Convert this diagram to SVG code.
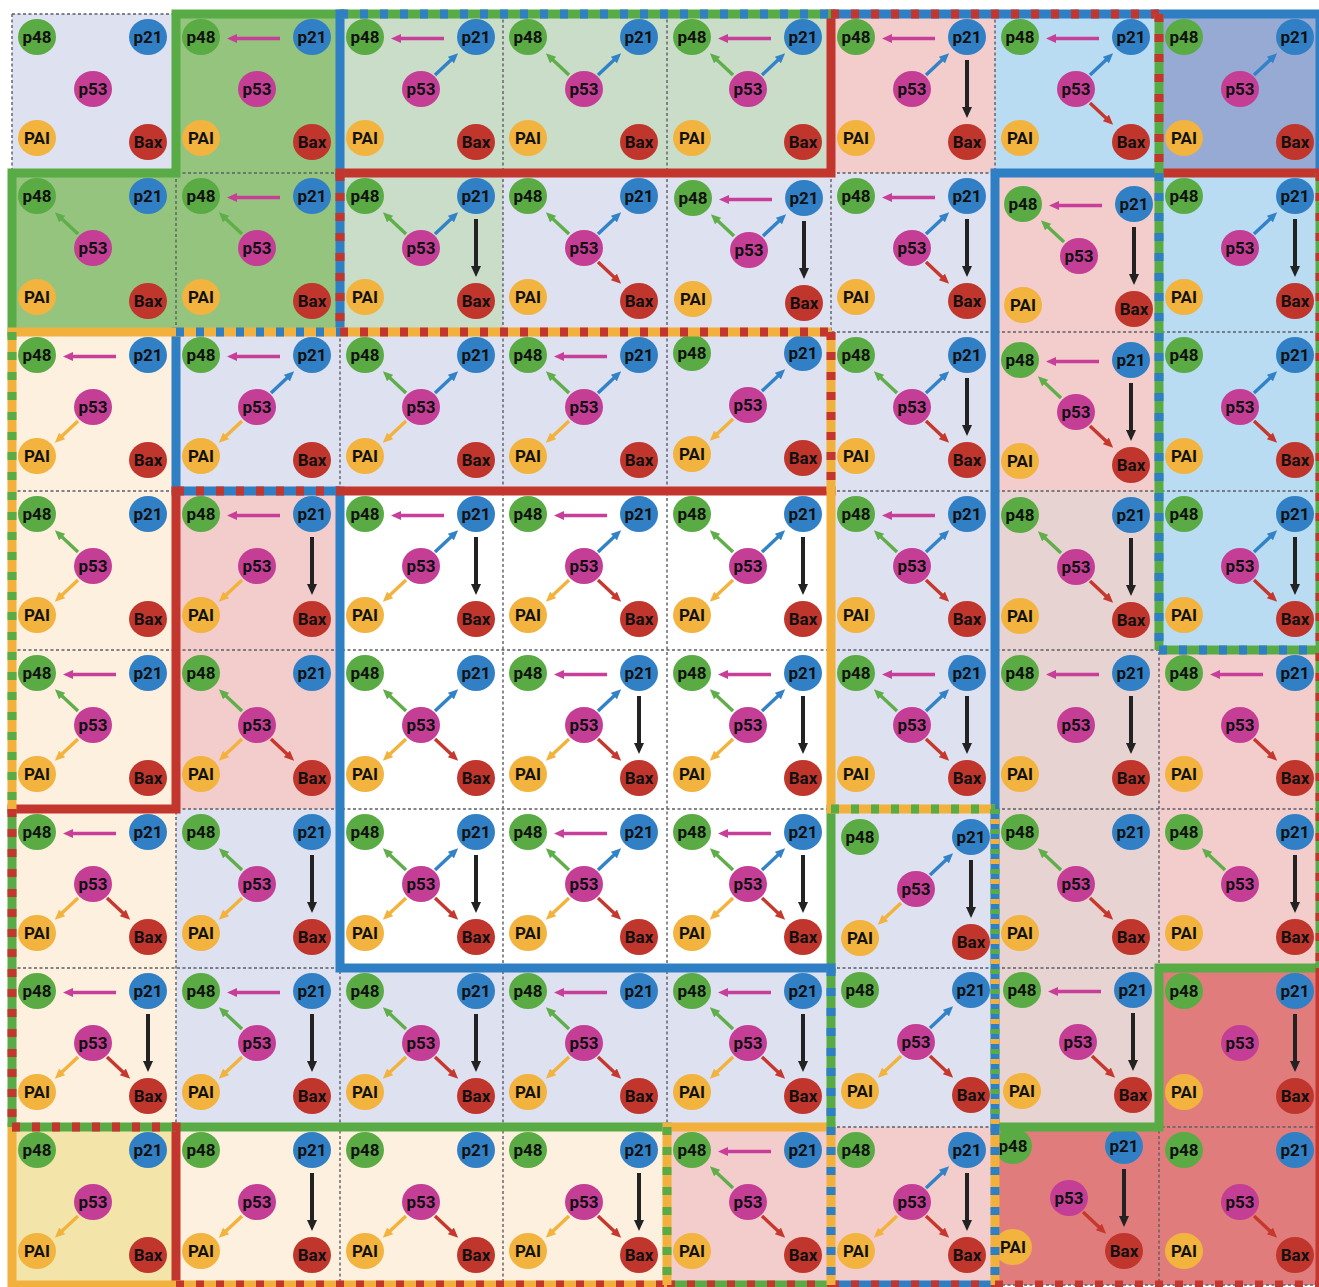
<svg xmlns="http://www.w3.org/2000/svg" xmlns:xlink="http://www.w3.org/1999/xlink" width="1319" height="1287" viewBox="0 0 1319 1287">
<style>
.a{fill:none;stroke-width:3.4}
.k{fill:none;stroke-width:4}
.s{fill:none;stroke-width:9;stroke-linecap:square}
.d{fill:none;stroke-width:9}
.o{fill:none;stroke-width:9;stroke-dasharray:8 12}
</style>
<defs>
<marker id="mM" viewBox="0 0 10 9" refX="2" refY="4.5" markerWidth="10" markerHeight="9" markerUnits="userSpaceOnUse" orient="auto"><path d="M0,0L10,4.5L0,9z" fill="#c73f98"/></marker>
<marker id="mB" viewBox="0 0 10 9" refX="2" refY="4.5" markerWidth="10" markerHeight="9" markerUnits="userSpaceOnUse" orient="auto"><path d="M0,0L10,4.5L0,9z" fill="#3282c8"/></marker>
<marker id="mG" viewBox="0 0 10 9" refX="2" refY="4.5" markerWidth="10" markerHeight="9" markerUnits="userSpaceOnUse" orient="auto"><path d="M0,0L10,4.5L0,9z" fill="#5fae4a"/></marker>
<marker id="mO" viewBox="0 0 10 9" refX="2" refY="4.5" markerWidth="10" markerHeight="9" markerUnits="userSpaceOnUse" orient="auto"><path d="M0,0L10,4.5L0,9z" fill="#f2b23c"/></marker>
<marker id="mR" viewBox="0 0 10 9" refX="2" refY="4.5" markerWidth="10" markerHeight="9" markerUnits="userSpaceOnUse" orient="auto"><path d="M0,0L10,4.5L0,9z" fill="#c6372e"/></marker>
<marker id="mK" viewBox="0 0 11 10" refX="2" refY="5" markerWidth="11" markerHeight="10" markerUnits="userSpaceOnUse" orient="auto"><path d="M0,0L11,5L0,10z" fill="#222"/></marker>
<path id="aL" class="a" d="M104,24.5H59" stroke="#c73f98" marker-end="url(#mM)"/>
<path id="aU" class="a" d="M95,61L112.3,44.7" stroke="#3282c8" marker-end="url(#mB)"/>
<path id="aG" class="a" d="M66,61L48.7,44.7" stroke="#5fae4a" marker-end="url(#mG)"/>
<path id="aO" class="a" d="M66,89L48.7,105.3" stroke="#f2b23c" marker-end="url(#mO)"/>
<path id="aR" class="a" d="M95,89L112.3,105.3" stroke="#c6372e" marker-end="url(#mR)"/>
<path id="aD" class="k" d="M136,46V95" stroke="#222" marker-end="url(#mK)"/>
<g id="nodeset" font-family="Roboto, 'Liberation Sans', sans-serif" font-weight="700" font-size="17" fill="#111" text-anchor="middle">
<g id="t-p48"><ellipse cx="25" cy="23" rx="19" ry="18" fill="#5bab45"/><text x="25" y="29" fill="#111">p48</text></g>
<g id="t-p21"><ellipse cx="136" cy="23" rx="19" ry="18" fill="#3180c6"/><text x="136" y="29" fill="#111">p21</text></g>
<g id="t-p53"><ellipse cx="81" cy="75" rx="19" ry="18" fill="#c53e96"/><text x="81" y="81" fill="#111">p53</text></g>
<g id="t-PAI"><ellipse cx="25" cy="124" rx="19" ry="18" fill="#f2b33f"/><text x="25" y="130" fill="#111">PAI</text></g>
<g id="t-Bax"><ellipse cx="136" cy="128" rx="19" ry="18" fill="#c0362c"/><text x="136" y="134" fill="#111">Bax</text></g>
</g>
</defs>
<rect width="1319" height="1287" fill="#ffffff"/>
<g id="backgrounds">
<rect x="12" y="14" width="1308" height="1271" fill="#dee1ef"/>
<rect x="176" y="14" width="164" height="159" fill="#94c47e"/>
<rect x="12" y="173" width="328" height="159" fill="#94c47e"/>
<rect x="340" y="14" width="491" height="159" fill="#c9ddc9"/>
<rect x="340" y="173" width="163" height="159" fill="#c9ddc9"/>
<rect x="831" y="14" width="164" height="159" fill="#f3cdcc"/>
<rect x="995" y="173" width="164" height="318" fill="#f3cdcc"/>
<rect x="176" y="491" width="164" height="318" fill="#f3cdcc"/>
<rect x="1159" y="650" width="161" height="318" fill="#f3cdcc"/>
<rect x="667" y="1127" width="328" height="158" fill="#f3cdcc"/>
<rect x="995" y="14" width="164" height="159" fill="#badcf3"/>
<rect x="1159" y="173" width="161" height="477" fill="#badcf3"/>
<rect x="1159" y="14" width="161" height="159" fill="#96aad4"/>
<rect x="12" y="332" width="164" height="795" fill="#fdf0df"/>
<rect x="176" y="1127" width="491" height="158" fill="#fdf0df"/>
<rect x="340" y="491" width="491" height="477" fill="#ffffff"/>
<rect x="995" y="491" width="164" height="636" fill="#e7d3d2"/>
<rect x="1159" y="968" width="161" height="317" fill="#e07d7c"/>
<rect x="995" y="1127" width="164" height="158" fill="#e07d7c"/>
<rect x="12" y="1127" width="164" height="158" fill="#f3e5aa"/>
</g>
<g id="grid" fill="none" stroke="#5c5d66" stroke-width="1.4" stroke-dasharray="3 2.5">
<path d="M12,14V1285M176,14V1285M340,14V1285M503,14V1285M667,14V1285M831,14V1285M995,14V1285M1159,14V1285M1320,14V1285M12,14H1320M12,173H1320M12,332H1320M12,491H1320M12,650H1320M12,809H1320M12,968H1320M12,1127H1320M12,1285H1320"/>
</g>
<g id="connectors">
<g transform="translate(176 14)"><use href="#aL"/></g>
<g transform="translate(340 14)"><use href="#aL"/><use href="#aU"/></g>
<g transform="translate(503 14)"><use href="#aG"/><use href="#aU"/></g>
<g transform="translate(667 14)"><use href="#aL"/><use href="#aG"/><use href="#aU"/></g>
<g transform="translate(831 14)"><use href="#aL"/><use href="#aU"/><use href="#aD"/></g>
<g transform="translate(995 14)"><use href="#aL"/><use href="#aU"/><use href="#aR"/></g>
<g transform="translate(1159 14)"><use href="#aU"/></g>
<g transform="translate(12 173)"><use href="#aG"/></g>
<g transform="translate(176 173)"><use href="#aL"/><use href="#aG"/></g>
<g transform="translate(340 173)"><use href="#aG"/><use href="#aU"/><use href="#aD"/></g>
<g transform="translate(503 173)"><use href="#aG"/><use href="#aU"/><use href="#aR"/></g>
<g transform="translate(668 175)"><use href="#aL"/><use href="#aG"/><use href="#aU"/><use href="#aD"/></g>
<g transform="translate(831 173)"><use href="#aL"/><use href="#aU"/><use href="#aR"/><use href="#aD"/></g>
<g transform="translate(998 181)"><use href="#aL"/><use href="#aG"/><use href="#aD"/></g>
<g transform="translate(1159 173)"><use href="#aU"/><use href="#aD"/></g>
<g transform="translate(12 332)"><use href="#aL"/><use href="#aO"/></g>
<g transform="translate(176 332)"><use href="#aL"/><use href="#aU"/><use href="#aO"/></g>
<g transform="translate(340 332)"><use href="#aG"/><use href="#aU"/><use href="#aO"/></g>
<g transform="translate(503 332)"><use href="#aL"/><use href="#aG"/><use href="#aU"/><use href="#aO"/></g>
<g transform="translate(667 330)"><use href="#aU"/><use href="#aO"/></g>
<g transform="translate(831 332)"><use href="#aG"/><use href="#aU"/><use href="#aR"/><use href="#aD"/></g>
<g transform="translate(995 337)"><use href="#aL"/><use href="#aG"/><use href="#aR"/><use href="#aD"/></g>
<g transform="translate(1159 332)"><use href="#aU"/><use href="#aR"/></g>
<g transform="translate(12 491)"><use href="#aG"/><use href="#aO"/></g>
<g transform="translate(176 491)"><use href="#aL"/><use href="#aO"/><use href="#aD"/></g>
<g transform="translate(340 491)"><use href="#aL"/><use href="#aU"/><use href="#aO"/><use href="#aD"/></g>
<g transform="translate(503 491)"><use href="#aL"/><use href="#aU"/><use href="#aO"/><use href="#aR"/></g>
<g transform="translate(667 491)"><use href="#aG"/><use href="#aU"/><use href="#aO"/><use href="#aD"/></g>
<g transform="translate(831 491)"><use href="#aL"/><use href="#aG"/><use href="#aU"/><use href="#aR"/></g>
<g transform="translate(995 492)"><use href="#aG"/><use href="#aR"/><use href="#aD"/></g>
<g transform="translate(1159 491)"><use href="#aU"/><use href="#aR"/><use href="#aD"/></g>
<g transform="translate(12 650)"><use href="#aL"/><use href="#aG"/><use href="#aO"/></g>
<g transform="translate(176 650)"><use href="#aG"/><use href="#aO"/><use href="#aR"/></g>
<g transform="translate(340 650)"><use href="#aG"/><use href="#aU"/><use href="#aO"/><use href="#aR"/></g>
<g transform="translate(503 650)"><use href="#aL"/><use href="#aU"/><use href="#aO"/><use href="#aR"/><use href="#aD"/></g>
<g transform="translate(667 650)"><use href="#aL"/><use href="#aG"/><use href="#aU"/><use href="#aO"/><use href="#aD"/></g>
<g transform="translate(831 650)"><use href="#aL"/><use href="#aG"/><use href="#aU"/><use href="#aR"/><use href="#aD"/></g>
<g transform="translate(995 650)"><use href="#aL"/><use href="#aD"/></g>
<g transform="translate(1159 650)"><use href="#aL"/><use href="#aR"/></g>
<g transform="translate(12 809)"><use href="#aL"/><use href="#aO"/><use href="#aR"/></g>
<g transform="translate(176 809)"><use href="#aG"/><use href="#aO"/><use href="#aD"/></g>
<g transform="translate(340 809)"><use href="#aG"/><use href="#aU"/><use href="#aO"/><use href="#aR"/><use href="#aD"/></g>
<g transform="translate(503 809)"><use href="#aL"/><use href="#aG"/><use href="#aU"/><use href="#aO"/><use href="#aR"/></g>
<g transform="translate(667 809)"><use href="#aL"/><use href="#aG"/><use href="#aU"/><use href="#aO"/><use href="#aR"/><use href="#aD"/></g>
<g transform="translate(835 814)"><use href="#aU"/><use href="#aO"/><use href="#aD"/></g>
<g transform="translate(995 809)"><use href="#aG"/><use href="#aR"/></g>
<g transform="translate(1159 809)"><use href="#aG"/><use href="#aD"/></g>
<g transform="translate(12 968)"><use href="#aL"/><use href="#aO"/><use href="#aR"/><use href="#aD"/></g>
<g transform="translate(176 968)"><use href="#aL"/><use href="#aG"/><use href="#aO"/><use href="#aD"/></g>
<g transform="translate(340 968)"><use href="#aG"/><use href="#aO"/><use href="#aR"/><use href="#aD"/></g>
<g transform="translate(503 968)"><use href="#aL"/><use href="#aG"/><use href="#aO"/><use href="#aR"/></g>
<g transform="translate(667 968)"><use href="#aL"/><use href="#aG"/><use href="#aO"/><use href="#aR"/><use href="#aD"/></g>
<g transform="translate(835 967)"><use href="#aU"/><use href="#aO"/><use href="#aR"/></g>
<g transform="translate(997 967)"><use href="#aL"/><use href="#aR"/><use href="#aD"/></g>
<g transform="translate(1159 968)"><use href="#aD"/></g>
<g transform="translate(12 1127)"><use href="#aO"/></g>
<g transform="translate(176 1127)"><use href="#aO"/><use href="#aD"/></g>
<g transform="translate(340 1127)"><use href="#aO"/><use href="#aR"/></g>
<g transform="translate(503 1127)"><use href="#aO"/><use href="#aR"/><use href="#aD"/></g>
<g transform="translate(667 1127)"><use href="#aL"/><use href="#aG"/><use href="#aR"/></g>
<g transform="translate(831 1127)"><use href="#aU"/><use href="#aO"/><use href="#aR"/><use href="#aD"/></g>
<g transform="translate(988 1123)"><use href="#aR"/><use href="#aD"/></g>
<g transform="translate(1159 1127)"><use href="#aR"/></g>
</g>
<g id="nodes">
<use id="n-r0c0" href="#nodeset" x="12" y="14"/><use id="n-r0c1" href="#nodeset" x="176" y="14"/><use id="n-r0c2" href="#nodeset" x="340" y="14"/><use id="n-r0c3" href="#nodeset" x="503" y="14"/><use id="n-r0c4" href="#nodeset" x="667" y="14"/><use id="n-r0c5" href="#nodeset" x="831" y="14"/><use id="n-r0c6" href="#nodeset" x="995" y="14"/><use id="n-r0c7" href="#nodeset" x="1159" y="14"/>
<use id="n-r1c0" href="#nodeset" x="12" y="173"/><use id="n-r1c1" href="#nodeset" x="176" y="173"/><use id="n-r1c2" href="#nodeset" x="340" y="173"/><use id="n-r1c3" href="#nodeset" x="503" y="173"/><use id="n-r1c4" href="#nodeset" x="668" y="175"/><use id="n-r1c5" href="#nodeset" x="831" y="173"/><use id="n-r1c6" href="#nodeset" x="998" y="181"/><use id="n-r1c7" href="#nodeset" x="1159" y="173"/>
<use id="n-r2c0" href="#nodeset" x="12" y="332"/><use id="n-r2c1" href="#nodeset" x="176" y="332"/><use id="n-r2c2" href="#nodeset" x="340" y="332"/><use id="n-r2c3" href="#nodeset" x="503" y="332"/><use id="n-r2c4" href="#nodeset" x="667" y="330"/><use id="n-r2c5" href="#nodeset" x="831" y="332"/><use id="n-r2c6" href="#nodeset" x="995" y="337"/><use id="n-r2c7" href="#nodeset" x="1159" y="332"/>
<use id="n-r3c0" href="#nodeset" x="12" y="491"/><use id="n-r3c1" href="#nodeset" x="176" y="491"/><use id="n-r3c2" href="#nodeset" x="340" y="491"/><use id="n-r3c3" href="#nodeset" x="503" y="491"/><use id="n-r3c4" href="#nodeset" x="667" y="491"/><use id="n-r3c5" href="#nodeset" x="831" y="491"/><use id="n-r3c6" href="#nodeset" x="995" y="492"/><use id="n-r3c7" href="#nodeset" x="1159" y="491"/>
<use id="n-r4c0" href="#nodeset" x="12" y="650"/><use id="n-r4c1" href="#nodeset" x="176" y="650"/><use id="n-r4c2" href="#nodeset" x="340" y="650"/><use id="n-r4c3" href="#nodeset" x="503" y="650"/><use id="n-r4c4" href="#nodeset" x="667" y="650"/><use id="n-r4c5" href="#nodeset" x="831" y="650"/><use id="n-r4c6" href="#nodeset" x="995" y="650"/><use id="n-r4c7" href="#nodeset" x="1159" y="650"/>
<use id="n-r5c0" href="#nodeset" x="12" y="809"/><use id="n-r5c1" href="#nodeset" x="176" y="809"/><use id="n-r5c2" href="#nodeset" x="340" y="809"/><use id="n-r5c3" href="#nodeset" x="503" y="809"/><use id="n-r5c4" href="#nodeset" x="667" y="809"/><use id="n-r5c5" href="#nodeset" x="835" y="814"/><use id="n-r5c6" href="#nodeset" x="995" y="809"/><use id="n-r5c7" href="#nodeset" x="1159" y="809"/>
<use id="n-r6c0" href="#nodeset" x="12" y="968"/><use id="n-r6c1" href="#nodeset" x="176" y="968"/><use id="n-r6c2" href="#nodeset" x="340" y="968"/><use id="n-r6c3" href="#nodeset" x="503" y="968"/><use id="n-r6c4" href="#nodeset" x="667" y="968"/><use id="n-r6c5" href="#nodeset" x="835" y="967"/><use id="n-r6c6" href="#nodeset" x="997" y="967"/><use id="n-r6c7" href="#nodeset" x="1159" y="968"/>
<use id="n-r7c0" href="#nodeset" x="12" y="1127"/><use id="n-r7c1" href="#nodeset" x="176" y="1127"/><use id="n-r7c2" href="#nodeset" x="340" y="1127"/><use id="n-r7c3" href="#nodeset" x="503" y="1127"/><use id="n-r7c4" href="#nodeset" x="667" y="1127"/><use id="n-r7c5" href="#nodeset" x="831" y="1127"/><use id="n-r7c6" href="#nodeset" x="988" y="1123"/><use id="n-r7c7" href="#nodeset" x="1159" y="1127"/>
</g>
<g id="borders">
<path class="s" stroke="#58ab45" d="M176,14H340M176,14V173M12,173H176M12,173V332M1159,968H1320M1159,968V1127M995,1127H1159M831,809V968M176,1127H667"/>
<path class="s" stroke="#2f7fc4" d="M340,14V173M1159,14H1320M1320,14V173M995,173H1159M995,173V809M176,332V491M340,491V968M340,968H831"/>
<path class="s" stroke="#c3362e" d="M831,14V173M340,173H831M1159,173H1320M340,491H831M176,491V809M12,809H176M176,1127V1285M1320,968V1285"/>
<path class="s" stroke="#f2b03c" d="M12,332H176M831,491V809M667,1127H831M12,1127V1285M12,1285H176"/>
<path class="d" stroke="#58ab45" d="M340,14H831M1159,173V650M1159,650H1320M831,968V1127"/>
<path class="o" stroke="#2f7fc4" d="M340,14H831M1159,173V650M1159,650H1320M831,968V1127"/>
<path class="d" stroke="#2f7fc4" d="M831,14H1159M340,173V332M176,491H340M831,1285H995"/>
<path class="o" stroke="#c3362e" d="M831,14H1159M340,173V332M176,491H340M831,1285H995"/>
<path class="d" stroke="#58ab45" d="M1159,14V173M12,809V1127M12,1127H176M667,1285H831M1320,173V968"/>
<path class="o" stroke="#c3362e" d="M1159,14V173M12,809V1127M12,1127H176M667,1285H831M1320,173V968"/>
<path class="d" stroke="#f2b03c" d="M176,332H340M831,1127V1285M995,1127V1285"/>
<path class="o" stroke="#2f7fc4" d="M176,332H340M831,1127V1285M995,1127V1285"/>
<path class="d" stroke="#f2b03c" d="M340,332H831M831,332V491M176,1285H667"/>
<path class="o" stroke="#c3362e" d="M340,332H831M831,332V491M176,1285H667"/>
<path class="d" stroke="#f2b03c" d="M12,332V809M831,809H995M667,1127V1285"/>
<path class="o" stroke="#58ab45" d="M12,332V809M831,809H995M667,1127V1285"/>
<path class="d" stroke="#2f7fc4" d="M995,809V1127"/>
<path class="d" stroke="#58ab45" stroke-dasharray="5 15" d="M995,809V1127"/>
<path class="d" stroke="#f2b03c" stroke-dasharray="5 15" stroke-dashoffset="-10" d="M995,809V1127"/>
<path class="o" stroke="#c3362e" d="M995,1285H1320"/>
</g>
</svg>
